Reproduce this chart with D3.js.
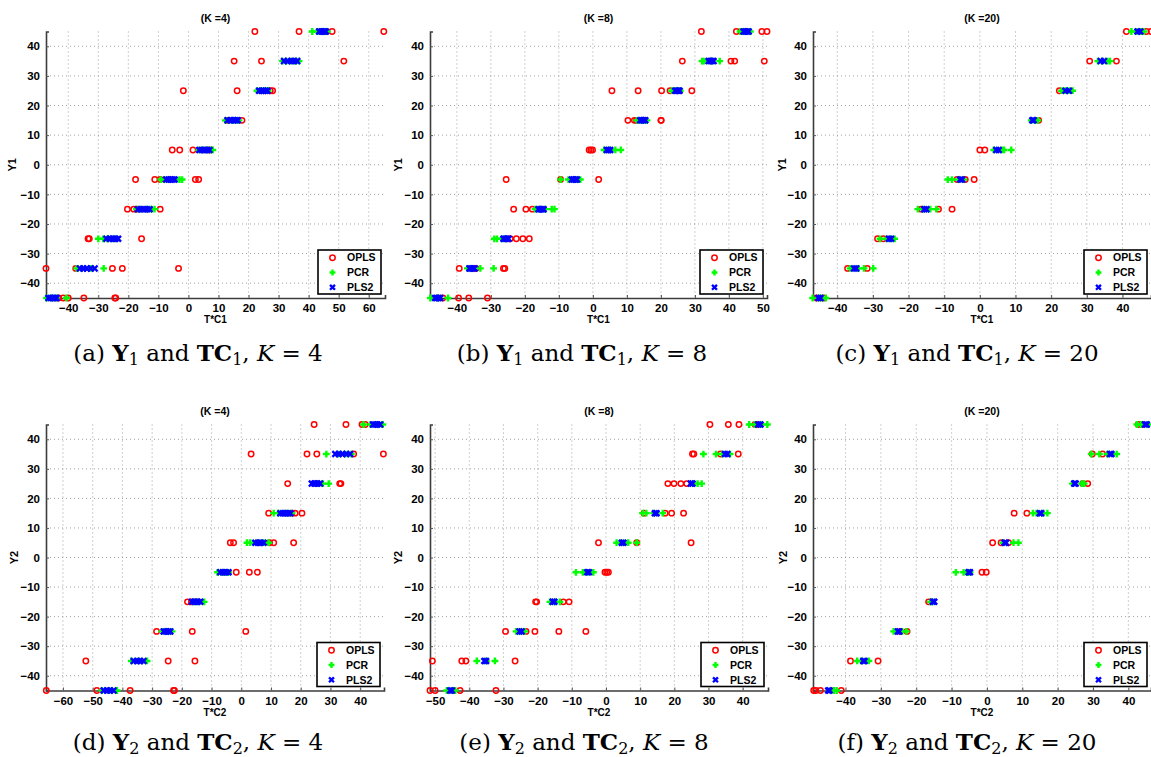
<!DOCTYPE html>
<html><head><meta charset="utf-8">
<script src="https://cdn.jsdelivr.net/npm/d3@7"></script>
<style>
body{margin:0;background:#fff;}
svg{display:block;}
</style></head>
<body>
<svg id="chart" width="1151" height="757"></svg>
<script>
// Y levels (shared by every panel), top to bottom
const levels = [45,35,25,15,5,-5,-15,-25,-35,-45];
const yTicks = [-40,-30,-20,-10,0,10,20,30,40];
const seriesNames = ["OPLS","PCR","PLS2"];

// ---- (a) Y1 vs TC1, K=4 ----
const xTicks_a = [-40,-30,-20,-10,0,10,20,30,40,50,60];
const OPLS_a = [[22.1,36.8,47.8,65.0],[15.2,24.3,51.7],[-1.7,16.2,27.2,28.0],[12.8,17.8],[-5.4,-2.9,1.5,7.0],
  [-17.6,-11.2,-9.4,2.3,3.4],[-20.3,-18.2,-17.1,-9.4],[-33.4,-33.0,-15.6],[-47.4,-37.5,-25.3,-22.0,-3.3],[-43.2,-41.7,-40.0,-34.8,-24.5,-24.2]];
const PCR_a = [[41.2,42.8,44.0,45.2,46.2],[31.3,32.5,34.0,35.5,36.8],[22.8,24.0,25.0,25.7,26.5],[12.3,13.5,14.8,16.0,16.8],[3.4,4.8,6.0,7.2,8.1],
  [-9.2,-8.0,-6.5,-3.0,-2.1],[-17.3,-16.0,-14.0,-12.5,-11.3],[-30.0,-28.4,-27.0,-25.5,-24.0],[-37.2,-35.5,-33.0,-32.6,-28.2],[-47.2,-45.5,-44.0,-40.6]];
const PLS2_a = [[43.5,44.2,44.8,45.3,45.7],[31.8,33.0,34.2,35.2,36.2],[23.5,24.3,25.0,25.7,26.3],[13.0,14.0,15.0,15.8,16.4],[3.6,4.5,5.3,6.2,7.0],
  [-7.4,-6.6,-5.8,-5.2,-4.6],[-16.8,-15.8,-14.8,-13.8,-12.9],[-27.3,-26.2,-25.2,-24.3,-23.4],[-36.1,-35.0,-33.8,-32.5,-31.2],[-46.6,-45.8,-45.0,-44.4,-43.9]];

// ---- (b) Y1 vs TC1, K=8 ----
const xTicks_b = [-40,-30,-20,-10,0,10,20,30,40,50];
const OPLS_b = [[31.9,42.2,49.7,51.2],[26.3,40.6,41.7,50.4],[5.6,13.3,20.2,22.7,29.1],[10.3,12.2,12.8,20.0,20.1],[-1.1,-0.6,-0.1],
  [-25.5,-9.5,1.7],[-23.3,-19.7,-17.8],[-24.3,-22.5,-20.6,-18.7],[-39.3,-34.4,-26.3,-25.9],[-44.1,-39.5,-36.5,-31.0]];
const PCR_b = [[43.3,44.0,45.0,46.3],[32.1,32.6,35.0,37.3],[23.2,24.0,25.0,25.7],[12.9,14.0,15.0,15.9],[3.3,5.0,6.6,8.2],
  [-9.5,-7.2,-5.5,-4.5,-3.7],[-17.0,-15.5,-14.0,-12.1,-11.3],[-29.0,-28.2,-26.8,-25.5],[-36.9,-35.5,-33.1,-29.2],[-47.8,-45.5,-42.6]];
const PLS2_b = [[44.3,44.8,45.3,45.8],[34.0,34.5,35.0,35.5],[24.2,24.7,25.1,25.5],[13.9,14.4,14.9,15.4],[4.1,4.6,5.1],
  [-6.2,-5.7,-5.2,-4.7],[-16.0,-15.5,-15.0,-14.5],[-26.3,-25.8,-25.3,-24.8],[-36.3,-35.8,-35.3,-34.8],[-46.4,-45.9,-45.4,-44.9]];

// ---- (c) Y1 vs TC1, K=20 ----
const xTicks_c = [-40,-30,-20,-10,0,10,20,30,40];
const OPLS_c = [[41.1,46.7,48.0],[30.8,38.3],[22.3],[16.5],[0.0,1.4],
  [-6.4,-4.1,-1.6],[-16.4,-11.6,-7.8],[-28.7,-27.1],[-37.1,-31.6],[-45.8,-43.8]];
const PCR_c = [[42.5,43.8,45.1,46.0],[33.1,34.3,35.8,36.5],[22.9,24.0,25.2,26.0],[14.4,15.5,16.3],[3.9,6.2,6.8,8.8],
  [-9.0,-7.8,-6.0,-4.5],[-17.4,-15.8,-13.9,-12.2],[-28.0,-26.2,-25.0,-23.9],[-36.4,-34.0,-32.5,-29.9],[-46.9,-45.0,-44.2,-43.2]];
const PLS2_c = [[44.2,45.0],[33.9,34.8],[24.0,25.0],[14.7,15.1],[4.6,5.3],
  [-5.5,-5.0],[-15.6,-15.0],[-25.5,-24.9],[-35.3,-34.7],[-45.3,-44.7]];

// ---- (d) Y2 vs TC2, K=4 ----
const xTicks_d = [-60,-50,-40,-30,-20,-10,0,10,20,30,40];
const OPLS_d = [[24.5,35.2,40.6,41.7],[3.3,22.1,25.4,37.8,47.8],[15.6,33.1,33.5],[9.2,17.0,18.1,20.4],[-3.7,-2.6,9.5,10.9,17.6],
  [-1.7,2.7,5.4],[-18.1,-16.8],[-28.5,-16.5,1.5],[-52.3,-24.6,-15.6],[-65.6,-48.6,-37.4,-22.8,-22.5]];
const PCR_d = [[41.1,43.5,45.5,47.6],[28.6,32.5,35.0,37.0],[25.5,27.5,29.4],[10.9,12.5,15.0,17.0],[1.9,3.0,5.5,7.5,9.2],
  [-8.0,-6.5,-5.5,-4.3],[-16.0,-14.5,-12.5],[-26.7,-25.0,-23.3],[-37.0,-34.5,-31.7],[-46.9,-44.5,-41.8]];
const PLS2_d = [[44.3,45.0,45.8,46.7],[31.6,32.8,34.0,35.3,36.6],[23.7,24.6,25.6,26.5],[13.1,14.0,14.8,15.7,16.5],[4.7,5.6,6.5,7.5],
  [-7.1,-6.2,-5.2,-4.3],[-16.6,-15.7,-14.7,-13.8],[-26.1,-25.3,-24.6,-23.9],[-36.2,-35.1,-34.0,-32.9],[-46.3,-45.2,-44.1,-43.0]];

// ---- (e) Y2 vs TC2, K=8 ----
const xTicks_e = [-50,-40,-30,-20,-10,0,10,20,30,40];
const OPLS_e = [[30.4,35.8,38.9,43.6,44.1],[25.3,25.7,33.5,38.7],[18.1,19.9,21.9,23.6],[11.1,17.3,19.2,22.7],[-2.2,9.0,24.9],
  [-0.3,0.2,0.7],[-20.6,-20.3,-12.5,-10.8],[-29.4,-23.4,-20.8,-13.8,-5.9],[-50.8,-42.2,-41.0,-26.6],[-51.5,-50.0,-42.7,-32.2]];
const PCR_e = [[41.9,43.5,45.5,47.2],[28.5,32.2,34.0,36.3],[25.5,26.8,28.0],[10.7,11.8,14.0,16.6],[3.1,4.5,6.5,9.0],
  [-8.8,-6.8,-5.5,-3.7],[-16.4,-15.0,-13.5],[-26.3,-25.0,-23.8],[-37.8,-35.0,-32.5],[-46.6,-45.0,-44.1]];
const PLS2_e = [[44.5,45.2],[34.8,35.5],[24.8,25.3],[14.3,14.8],[4.6,5.1],
  [-5.5,-5.0],[-15.6,-15.1],[-25.3,-24.7],[-35.6,-35.1],[-45.6,-45.1]];

// ---- (f) Y2 vs TC2, K=20 ----
const xTicks_f = [-40,-30,-20,-10,0,10,20,30,40];
const OPLS_f = [[42.8,43.8],[29.8,32.7],[27.1,28.5],[7.7,11.3],[1.6,4.0,6.1],
  [-1.4,-0.2],[-16.5],[-24.5,-22.6],[-38.6,-30.8],[-49.0,-48.4,-47.1,-41.2]];
const PCR_f = [[42.4,43.5,45.7],[29.5,31.8,34.0,36.7],[24.2,26.8,27.5],[13.0,14.0,16.0,17.1],[4.5,7.5,8.9],
  [-8.8,-6.6,-5.5,-4.8],[-16.0,-15.4],[-26.4,-24.0,-22.8],[-36.7,-35.5,-33.4],[-43.3,-42.5]];
const PLS2_f = [[44.7,45.2],[34.8,35.2],[24.7,25.1],[14.9,15.3],[5.0,5.4],
  [-5.2,-4.8],[-15.3,-14.9],[-25.2,-24.8],[-35.0,-34.6],[-44.9,-44.5]];

const titles = ["(K =4)","(K =8)","(K =20)","(K =4)","(K =8)","(K =20)"];
const captionLetters = ["(a)","(b)","(c)","(d)","(e)","(f)"];
const captionK = ["4","8","20","4","8","20"];

// ---------------- drawing ----------------
const svg = d3.select("#chart");
const AX = "'Liberation Sans', Arial, Helvetica, sans-serif";
const minus = s => String(s).replace("-", "\u2212");

const panels = [
  {x0:46, x1:385, y0:31.5, y1:298, dom:[-47.4,65.4], ticks:xTicks_a, s:[OPLS_a,PCR_a,PLS2_a], yl:"Y1", xl:"T*C1", sub:"1", yl_x:12, cap:198, capY:361},
  {x0:430, x1:767, y0:31.5, y1:298, dom:[-47.9,51.2], ticks:xTicks_b, s:[OPLS_b,PCR_b,PLS2_b], yl:"Y1", xl:"T*C1", sub:"1", yl_x:398, cap:582, capY:361},
  {x0:813, x1:1151, y0:31.5, y1:298, dom:[-46.8,48.0], ticks:xTicks_c, s:[OPLS_c,PCR_c,PLS2_c], yl:"Y1", xl:"T*C1", sub:"1", yl_x:782, cap:967, capY:361},
  {x0:46, x1:384, y0:424.5, y1:690.5, dom:[-65.7,48.0], ticks:xTicks_d, s:[OPLS_d,PCR_d,PLS2_d], yl:"Y2", xl:"T*C2", sub:"2", yl_x:14, cap:198, capY:750},
  {x0:430, x1:768, y0:424.5, y1:690.5, dom:[-51.5,47.4], ticks:xTicks_e, s:[OPLS_e,PCR_e,PLS2_e], yl:"Y2", xl:"T*C2", sub:"2", yl_x:398, cap:584, capY:750},
  {x0:813, x1:1151, y0:424.5, y1:690.5, dom:[-49.2,46.4], ticks:xTicks_f, s:[OPLS_f,PCR_f,PLS2_f], yl:"Y2", xl:"T*C2", sub:"2", yl_x:783, cap:967, capY:750}
];

function marker(g, type, cx, cy, sz){
  if(type===0){
    g.append("circle").attr("cx",cx).attr("cy",cy).attr("r",2.7)
      .attr("fill","none").attr("stroke","#ff0000").attr("stroke-width",1.5);
  } else if(type===1){
    const h = sz||3.4;
    g.append("path").attr("d",`M${cx-h},${cy}H${cx+h}M${cx},${cy-h}V${cy+h}`)
      .attr("stroke","#00ff00").attr("stroke-width",2.4).attr("fill","none");
  } else {
    const h = (sz||3.4)*0.85;
    g.append("path").attr("d",`M${cx-h},${cy-h}L${cx+h},${cy+h}M${cx-h},${cy+h}L${cx+h},${cy-h}`)
      .attr("stroke","#0000ff").attr("stroke-width",2.4).attr("fill","none");
  }
}

panels.forEach((p, pi) => {
  const x = d3.scaleLinear().domain(p.dom).range([p.x0, p.x1]);
  const y = d3.scaleLinear().domain([-45,45]).range([p.y1, p.y0]);
  const g = svg.append("g");

  // grid
  const grid = g.append("g").attr("stroke","#8a8a8a").attr("stroke-width",0.8).attr("stroke-dasharray","1,3");
  p.ticks.forEach(t => grid.append("line").attr("x1",x(t)).attr("x2",x(t)).attr("y1",p.y0).attr("y2",p.y1));
  yTicks.forEach(t => grid.append("line").attr("x1",p.x0).attr("x2",p.x1).attr("y1",y(t)).attr("y2",y(t)));

  // axes via d3 axes
  const ax = d3.axisBottom(x).tickValues(p.ticks).tickSize(-3).tickPadding(6).tickFormat(d => minus(d));
  const axg = g.append("g").attr("transform",`translate(0,${p.y1})`).call(ax);
  const ay = d3.axisLeft(y).tickValues(yTicks).tickSize(-3).tickPadding(6).tickFormat(d => minus(d));
  const ayg = g.append("g").attr("transform",`translate(${p.x0},0)`).call(ay);
  [axg, ayg].forEach(a => {
    a.select(".domain").attr("stroke","#3c3c3c").attr("stroke-width",1.6);
    a.selectAll(".tick line").attr("stroke","#555");
    a.selectAll("text").attr("font-family",AX).attr("font-weight","bold").attr("font-size",11.5).attr("fill","#000");
  });

  // title and labels
  g.append("text").attr("x",(p.x0+p.x1)/2).attr("y",p.y0-10).attr("text-anchor","middle")
    .attr("font-family",AX).attr("font-weight","bold").attr("font-size",10.5).text(titles[pi]);
  g.append("text").attr("x",(p.x0+p.x1)/2).attr("y",p.y1+25).attr("text-anchor","middle")
    .attr("font-family",AX).attr("font-weight","bold").attr("font-size",10).text(p.xl);
  g.append("text").attr("transform",`translate(${p.yl_x+4},${(p.y0+p.y1)/2}) rotate(-90)`).attr("text-anchor","middle")
    .attr("font-family",AX).attr("font-weight","bold").attr("font-size",11).text(p.yl);

  // points
  const pts = g.append("g");
  p.s.forEach((ser, si) => {
    ser.forEach((vals, li) => {
      vals.forEach(v => marker(pts, si, x(v), y(levels[li])));
    });
  });

  // legend
  const bw = 63, bh = 44;
  const bx = p.x1 - 4 - bw, by = p.y1 - 4 - bh;
  const lg = g.append("g");
  lg.append("rect").attr("x",bx).attr("y",by).attr("width",bw).attr("height",bh)
    .attr("fill","#fff").attr("stroke","#000").attr("stroke-width",1.6);
  seriesNames.forEach((n, i) => {
    const ly = by + 7.7 + i*14.8;
    marker(lg, i, bx+14.5, ly, 2.9);
    lg.append("text").attr("x",bx+29).attr("y",ly).attr("dy","0.36em")
      .attr("font-family",AX).attr("font-weight","bold").attr("font-size",10.5).text(n);
  });

  // caption
  const SER = "'DejaVu Serif', 'Liberation Serif', serif";
  const c = g.append("text").attr("x",p.cap).attr("y",p.capY).attr("text-anchor","middle")
    .attr("font-family",SER).attr("font-size",23).attr("fill","#000");
  c.append("tspan").text(captionLetters[pi] + " ");
  c.append("tspan").attr("font-weight","bold").text("Y");
  c.append("tspan").attr("font-size",16).attr("dy",3.5).text(p.sub);
  c.append("tspan").attr("dy",-3.5).text(" and ");
  c.append("tspan").attr("font-weight","bold").text("TC");
  c.append("tspan").attr("font-size",16).attr("dy",3.5).text(p.sub);
  c.append("tspan").attr("dy",-3.5).text(", ");
  c.append("tspan").attr("font-style","italic").text("K");
  c.append("tspan").text(" = " + captionK[pi]);
});
</script>
</body></html>
